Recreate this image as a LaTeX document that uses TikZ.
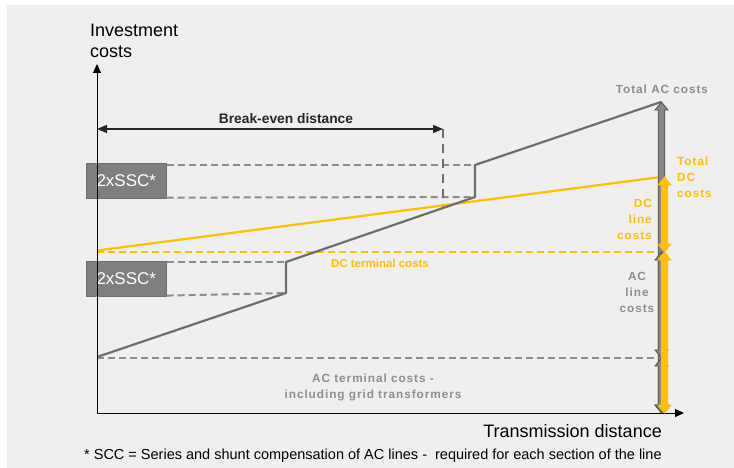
\documentclass[tikz,border=0pt]{standalone}
\usepackage{fontspec}
\setmainfont{Liberation Sans}
\newfontfamily\spacedfont[LetterSpace=8]{Liberation Sans}
\usetikzlibrary{arrows.meta}

\definecolor{bgc}{HTML}{EFEFEF}
\definecolor{acline}{HTML}{6E6E6E}
\definecolor{dashgray}{HTML}{8C8C8C}
\definecolor{dcyellow}{HTML}{FFC000}
\definecolor{lblgray}{HTML}{8E8E8E}
\definecolor{boxgray}{HTML}{7F7F7F}
\definecolor{arrfill}{HTML}{878787}
\definecolor{arredge}{HTML}{505050}

\tikzset{
  axis/.style={line width=1pt, black, -{Triangle[length=9pt,width=8pt]}},
  acpath/.style={line width=2.2pt, acline, line join=round},
  dcpath/.style={line width=2.2pt, dcyellow},
  graydash/.style={line width=2pt, dashgray, dash pattern=on 7pt off 4pt},
  yellowdash/.style={line width=2pt, dcyellow, dash pattern=on 7pt off 4pt},
  ssc/.style={fill=boxgray, draw=acline, line width=0.6pt, minimum width=80pt,
    minimum height=35pt, inner sep=0pt, text=white, font=\fontsize{17}{20}\selectfont},
  graylbl/.style={text=lblgray, font=\spacedfont\bfseries\fontsize{11.8}{16}\selectfont, inner sep=0pt},
  yellowlbl/.style={text=dcyellow, font=\spacedfont\bfseries\fontsize{11.8}{16}\selectfont, inner sep=0pt},
}

% vertical double-headed block arrow: x, top y, bottom y, fill, edge
\newcommand\blkarrow[5]{%
  \filldraw[fill=#4, draw=#5, line width=0.8pt, line join=miter]
    ({#1-3.3},{#2+8}) -- ({#1-6.5},{#2+8}) -- (#1,#2) -- ({#1+6.5},{#2+8}) -- ({#1+3.3},{#2+8}) --
    ({#1+3.3},{#3-8}) -- ({#1+6.5},{#3-8}) -- (#1,#3) -- ({#1-6.5},{#3-8}) -- ({#1-3.3},{#3-8}) -- cycle;}

\begin{document}
\begin{tikzpicture}[x=1pt, y=-1pt]
\useasboundingbox (0,0) rectangle (734,468);
\fill[white] (0,0) rectangle (734,468);
\fill[bgc] (7,5) rectangle (734,468);

% key points
\coordinate (origin) at (97,413);
\coordinate (ytop) at (97,64);
\coordinate (xend) at (684,413);
\coordinate (ac0) at (97,357);
\coordinate (ac1) at (286,293);
\coordinate (ac2) at (286,262);
\coordinate (ac3) at (475,197);
\coordinate (ac4) at (475,165);
\coordinate (ac5) at (661,102);
\coordinate (dc0) at (97,250.5);
\coordinate (dc1) at (661,177);
\coordinate (be0) at (97,129);
\coordinate (be1) at (443,129);
\coordinate (be2) at (443,209);

% SSC boxes
\node[ssc, anchor=north west] (sscA) at (86,163) {2xSSC*};
\node[ssc, anchor=north west] (sscB) at (86,261) {2xSSC*};

% horizontal guide dashes
\draw[graydash] (sscA.north east) ++(0,2) -- (ac4);
\draw[graydash] (sscA.south east) ++(0,-1) -- (ac3);
\draw[graydash] (sscB.north east) ++(0,1) -- (ac2);
\draw[graydash] (sscB.south east) ++(0,-1) -- (ac1);
\draw[yellowdash] (97,252) coordinate (dt0) -- (656,252) coordinate (dt1);
\draw[graydash] (97,358) coordinate (at0) -- (655,358) coordinate (at1);

% break-even marker
\draw[line width=2pt, acline, dash pattern=on 9pt off 6pt] (be1) -- (be2);
\draw[line width=1.5pt, black!85, {Triangle[length=10pt,width=8pt]}-{Triangle[length=10pt,width=8pt]}] (be0) -- (be1);
\node[font=\bfseries\fontsize{13.8}{15}\selectfont, text=black!85, anchor=base] (belbl) at (286,124) {Break-even distance};

% cost curves
\draw[dcpath] (dc0) -- (dc1);
\draw[acpath] (ac0) -- (ac1) -- (ac2) -- (ac3) -- (ac4) -- (ac5);

% axes
\draw[axis] (origin) -- (ytop);
\draw[axis] (origin) -- (xend);

% cost bars
\blkarrow{661.5}{102}{413}{arrfill}{arredge}
\blkarrow{661.5}{252}{358}{arrfill}{arredge}
\blkarrow{661.5}{358}{413}{arrfill}{arredge}
\blkarrow{664.5}{177}{252}{dcyellow}{dcyellow}
\blkarrow{664.5}{252}{413}{dcyellow}{dcyellow}

% labels (multi-line nodes sit on their last baseline)
\node[anchor=base west, align=left, inner sep=0pt, font=\fontsize{18}{21}\selectfont] (ylbl) at (90,58) {Investment\\costs};
\node[anchor=base east, inner sep=0pt, font=\fontsize{18}{21}\selectfont] (xlbl) at (662,437) {Transmission distance};
\node[anchor=base west, inner sep=0pt, font=\fontsize{14.5}{16}\selectfont] (note) at (84,459) {* SCC = Series and shunt compensation of AC lines -\ \ required for each section of the line};

\node[graylbl, anchor=base] (tac) at (662,94) {Total AC costs};
\node[yellowlbl, anchor=base west, align=left] (tdc) at (677,197) {Total\\DC\\costs};
\node[yellowlbl, anchor=base east, align=right] (dcl) at (652,239) {DC\\line\\costs};
\node[graylbl, anchor=base, align=center] (acl) at (637,312) {AC\\line\\costs};
\node[text=dcyellow, font=\bfseries\fontsize{11.5}{14}\selectfont, inner sep=0pt, anchor=base] (dtl) at (380,267) {DC terminal costs};
\node[graylbl, align=center, anchor=base] (atl) at (373,398) {AC terminal costs -\\including grid transformers};
\end{tikzpicture}
\end{document}
